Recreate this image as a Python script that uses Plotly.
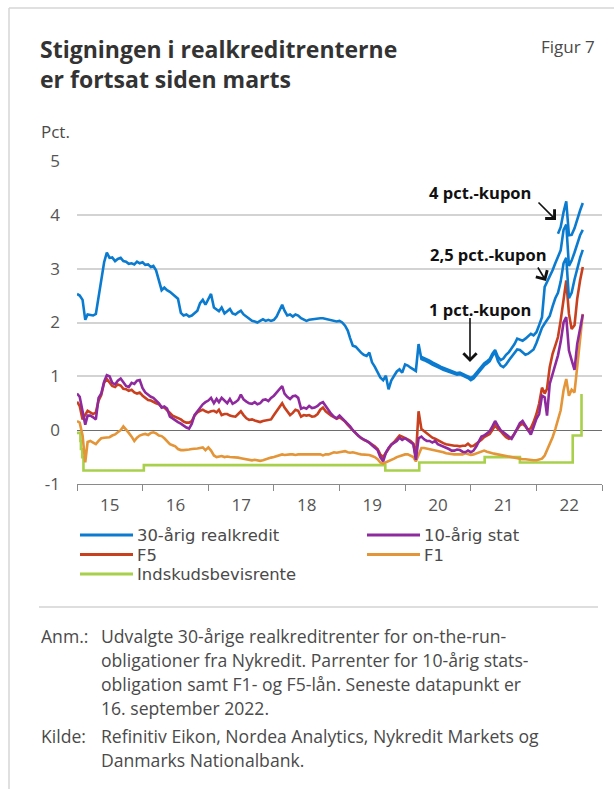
import plotly.graph_objects as go

# ---------------------------------------------------------------------------
# Data (per cent). Semi-monthly observations: 1st and 16th of each month,
# January 2015 - 16 September 2022.
# ---------------------------------------------------------------------------
dates = []
for year in range(2015, 2023):
    for month in range(1, 13):
        if year == 2022 and month > 9:
            break
        dates += [f"{year}-{month:02d}-01", f"{year}-{month:02d}-16"]

# 30-year mortgage rate (on-the-run, continuing as the 1 pct. coupon)
realkredit_30 = [
    2.53, 2.50, 2.42, 2.05, 2.15, 2.14, 2.13, 2.16, 2.50, 2.78, 3.12, 3.30,
    3.20, 3.21, 3.14, 3.18, 3.20, 3.14, 3.13, 3.09, 3.10, 3.08, 3.13, 3.10,
    3.12, 3.07, 3.08, 3.03, 3.05, 2.97, 2.75, 2.60, 2.65, 2.60, 2.57, 2.53,
    2.48, 2.44, 2.18, 2.13, 2.15, 2.11, 2.13, 2.17, 2.22, 2.36, 2.42, 2.33,
    2.44, 2.53, 2.28, 2.25, 2.21, 2.28, 2.17, 2.21, 2.25, 2.17, 2.15, 2.19,
    2.22, 2.15, 2.11, 2.06, 2.03, 2.02, 2.00, 2.03, 2.06, 2.03, 2.05, 2.03,
    2.05, 2.11, 2.22, 2.33, 2.22, 2.13, 2.15, 2.11, 2.15, 2.13, 2.08, 2.05,
    2.03, 2.05, 2.06, 2.06, 2.07, 2.08, 2.08, 2.07, 2.06, 2.05, 2.03, 2.02,
    2.03, 2.00, 1.94, 1.85, 1.71, 1.57, 1.55, 1.49, 1.44, 1.40, 1.38, 1.44,
    1.26, 1.18, 1.09, 0.98, 0.93, 1.01, 0.76, 0.92, 1.01, 1.09, 1.13, 1.07,
    1.22, 1.20, 1.16, 1.13, 1.10, 1.60, 1.32, 1.30, 1.28, 1.25, 1.22, 1.20,
    1.17, 1.15, 1.12, 1.10, 1.08, 1.06, 1.04, 1.03, 1.04, 1.01, 0.99, 0.97,
    0.93, 0.96, 1.03, 1.08, 1.15, 1.20, 1.24, 1.28, 1.38, 1.45, 1.28, 1.20,
    1.17, 1.22, 1.30, 1.36, 1.42, 1.50, 1.49, 1.44, 1.40, 1.42, 1.46, 1.50,
    1.62, 1.76, 1.90, 1.98, 2.04, 2.12, 2.30, 2.45, 2.55, 2.76, 3.10, 3.20,
    2.45, 2.55, 2.80, 3.00, 3.20, 3.35,
]

# Second on-the-run series from April 2020 (2.5 pct. coupon from February 2022)
realkredit_30_b_start = 126
realkredit_30_b = [
    1.36, 1.34, 1.31, 1.29, 1.26, 1.24, 1.21, 1.18, 1.16, 1.14, 1.11, 1.09,
    1.07, 1.06, 1.07, 1.04, 1.02, 1.00,
    0.97, 1.00, 1.07, 1.12, 1.19, 1.24, 1.28, 1.32, 1.42, 1.49, 1.36, 1.30,
    1.33, 1.40, 1.45, 1.52, 1.60, 1.70, 1.68, 1.66, 1.70, 1.74, 1.79, 1.76,
    1.82, 1.95, 2.10, 2.66, 2.75, 2.88, 2.97, 3.10, 3.22, 3.34, 3.72, 3.82,
    3.05, 3.15, 3.30, 3.45, 3.62, 3.72,
]

# 4 pct. coupon from May 2022
realkredit_30_c_start = 176
realkredit_30_c = [3.65, 3.77, 4.05, 4.25, 3.62, 3.63, 3.75, 3.93, 4.08, 4.22]

# 10-year government bond
stat_10 = [
    0.68, 0.62, 0.35, 0.10, 0.27, 0.27, 0.24, 0.20, 0.60, 0.68, 0.90, 1.02,
    1.00, 0.88, 0.85, 0.92, 0.96, 0.90, 0.82, 0.80, 0.88, 0.86, 0.92, 0.93,
    0.78, 0.70, 0.65, 0.62, 0.60, 0.56, 0.50, 0.42, 0.44, 0.40, 0.25, 0.22,
    0.18, 0.15, 0.12, 0.08, 0.05, 0.03, 0.12, 0.28, 0.35, 0.42, 0.48, 0.52,
    0.55, 0.60, 0.50, 0.58, 0.52, 0.60, 0.55, 0.50, 0.58, 0.49, 0.52, 0.56,
    0.66, 0.57, 0.53, 0.50, 0.49, 0.52, 0.48, 0.50, 0.56, 0.57, 0.54, 0.60,
    0.64, 0.70, 0.78, 0.82, 0.68, 0.62, 0.58, 0.63, 0.64, 0.60, 0.40, 0.42,
    0.40, 0.45, 0.41, 0.42, 0.45, 0.50, 0.52, 0.45, 0.36, 0.30, 0.25, 0.22,
    0.27, 0.22, 0.18, 0.12, 0.07, 0.00, -0.05, -0.10, -0.15, -0.17, -0.20, -0.23,
    -0.28, -0.33, -0.37, -0.50, -0.58, -0.42, -0.33, -0.27, -0.23, -0.20, -0.14, -0.18,
    -0.15, -0.19, -0.23, -0.26, -0.55, -0.15, -0.12, -0.17, -0.20, -0.20, -0.23, -0.20,
    -0.26, -0.28, -0.30, -0.32, -0.35, -0.38, -0.38, -0.36, -0.37, -0.40, -0.41, -0.38,
    -0.41, -0.38, -0.30, -0.20, -0.12, -0.10, -0.05, -0.02, 0.07, 0.17, 0.08, 0.00,
    -0.04, -0.08, -0.13, -0.16, -0.07, 0.04, 0.13, 0.17, 0.09, 0.00, -0.08, 0.06,
    0.21, 0.30, 0.64, 0.61, 0.27, 0.86, 1.05, 1.20, 1.39, 1.64, 2.00, 2.10,
    1.48, 1.30, 1.12, 1.60, 1.90, 2.15,
]

# F5 loans
f5 = [
    0.53, 0.45, 0.20, 0.30, 0.36, 0.33, 0.30, 0.33, 0.55, 0.65, 0.88, 0.95,
    0.89, 0.82, 0.80, 0.85, 0.83, 0.77, 0.76, 0.73, 0.75, 0.70, 0.68, 0.70,
    0.64, 0.60, 0.56, 0.55, 0.52, 0.50, 0.48, 0.43, 0.42, 0.38, 0.32, 0.27,
    0.25, 0.22, 0.20, 0.16, 0.14, 0.14, 0.17, 0.27, 0.33, 0.36, 0.38, 0.35,
    0.33, 0.35, 0.36, 0.33, 0.38, 0.28, 0.30, 0.30, 0.27, 0.26, 0.25, 0.30,
    0.35, 0.28, 0.22, 0.19, 0.20, 0.18, 0.17, 0.15, 0.17, 0.18, 0.19, 0.20,
    0.28, 0.35, 0.42, 0.50, 0.42, 0.36, 0.28, 0.32, 0.38, 0.36, 0.25, 0.28,
    0.27, 0.28, 0.25, 0.26, 0.30, 0.38, 0.42, 0.35, 0.30, 0.27, 0.24, 0.21,
    0.24, 0.20, 0.16, 0.10, 0.05, 0.00, -0.07, -0.11, -0.14, -0.18, -0.20, -0.23,
    -0.27, -0.30, -0.35, -0.45, -0.50, -0.42, -0.35, -0.27, -0.22, -0.16, -0.10, -0.12,
    -0.14, -0.17, -0.20, -0.25, -0.50, 0.35, 0.02, -0.02, -0.05, -0.10, -0.14, -0.16,
    -0.19, -0.21, -0.24, -0.26, -0.27, -0.29, -0.29, -0.29, -0.30, -0.29, -0.29, -0.25,
    -0.30, -0.29, -0.25, -0.22, -0.18, -0.13, -0.10, -0.07, 0.00, 0.09, 0.02, -0.02,
    -0.08, -0.13, -0.16, -0.14, -0.06, 0.02, 0.09, 0.12, 0.07, 0.00, 0.04, 0.15,
    0.30, 0.49, 0.79, 0.68, 0.77, 1.17, 1.42, 1.57, 1.73, 2.04, 2.38, 2.78,
    2.16, 1.88, 1.95, 2.44, 2.78, 3.03,
]

# F1 loans
f1 = [
    0.17, 0.14, -0.10, -0.60, -0.22, -0.20, -0.23, -0.26, -0.20, -0.15, -0.14, -0.14,
    -0.13, -0.10, -0.08, -0.04, 0.00, 0.07, 0.00, -0.05, -0.12, -0.20, -0.14, -0.10,
    -0.08, -0.07, -0.09, -0.05, -0.04, -0.06, -0.10, -0.11, -0.15, -0.20, -0.26, -0.28,
    -0.30, -0.35, -0.37, -0.37, -0.37, -0.36, -0.35, -0.35, -0.34, -0.33, -0.32, -0.37,
    -0.32, -0.38, -0.47, -0.50, -0.49, -0.48, -0.50, -0.49, -0.50, -0.50, -0.51, -0.51,
    -0.52, -0.53, -0.54, -0.54, -0.56, -0.55, -0.56, -0.57, -0.56, -0.54, -0.52, -0.51,
    -0.50, -0.48, -0.46, -0.45, -0.46, -0.45, -0.45, -0.45, -0.46, -0.45, -0.45, -0.44,
    -0.45, -0.45, -0.44, -0.45, -0.44, -0.45, -0.47, -0.45, -0.45, -0.43, -0.41, -0.42,
    -0.41, -0.40, -0.39, -0.41, -0.42, -0.41, -0.43, -0.44, -0.45, -0.45, -0.45, -0.46,
    -0.48, -0.50, -0.54, -0.60, -0.62, -0.60, -0.58, -0.56, -0.53, -0.50, -0.48, -0.46,
    -0.45, -0.45, -0.47, -0.50, -0.58, -0.45, -0.33, -0.33, -0.34, -0.35, -0.37, -0.38,
    -0.39, -0.40, -0.41, -0.43, -0.44, -0.45, -0.45, -0.45, -0.45, -0.45, -0.43, -0.44,
    -0.46, -0.45, -0.43, -0.41, -0.39, -0.38, -0.40, -0.42, -0.43, -0.44, -0.45, -0.46,
    -0.47, -0.48, -0.50, -0.51, -0.52, -0.53, -0.53, -0.54, -0.54, -0.55, -0.55, -0.56,
    -0.56, -0.55, -0.53, -0.47, -0.37, -0.24, -0.13, 0.02, 0.18, 0.37, 0.74, 0.95,
    0.64, 0.75, 0.70, 1.15, 1.70, 2.16,
]

# Certificate of deposit rate (step changes)
indskud_dates = ["2015-01-01", "2015-01-20", "2015-01-23", "2015-01-30", "2015-02-06",
                 "2016-01-08", "2019-09-13", "2020-03-20", "2021-03-19", "2021-10-01",
                 "2022-07-22", "2022-09-09", "2022-09-16"]
indskud = [-0.05, -0.20, -0.35, -0.50, -0.75, -0.65, -0.75, -0.60, -0.50, -0.60,
           -0.10, 0.65, 0.65]

y_tickvals = [-1, 0, 1, 2, 3, 4, 5]
y_ticktext = ["-1", "0", "1", "2", "3", "4", "5"]

# ---------------------------------------------------------------------------
# Styling
# ---------------------------------------------------------------------------
BLUE = "#0B7BD0"
PURPLE = "#8E2A9E"
RED = "#C8401E"
ORANGE = "#E39538"
GREEN = "#A8D04A"
FONT = "Open Sans"
LEGEND_FONT = "DejaVu Sans"
TXT = "#4A4A4A"

W, H = 614, 789
ML, MR, MT, MB = 77, 12, 161, 305
PW = W - ML - MR
PH = H - MT - MB


def px(x):
    """Pixel column -> paper x."""
    return (x - ML) / PW


def py(y):
    """Pixel row -> paper y."""
    return (H - MB - y) / PH


fig = go.Figure()

LW = 2.6
fig.add_trace(go.Scatter(x=indskud_dates, y=indskud, mode="lines", line_shape="hv",
                         line=dict(color=GREEN, width=LW), name="Indskudsbevisrente"))
fig.add_trace(go.Scatter(x=dates, y=f1, mode="lines", line=dict(color=ORANGE, width=LW), name="F1"))
fig.add_trace(go.Scatter(x=dates, y=f5, mode="lines", line=dict(color=RED, width=LW), name="F5"))
fig.add_trace(go.Scatter(x=dates, y=stat_10, mode="lines", line=dict(color=PURPLE, width=LW),
                         name="10-årig stat"))
fig.add_trace(go.Scatter(x=dates, y=realkredit_30, mode="lines", line=dict(color=BLUE, width=LW),
                         name="30-årig realkredit"))
fig.add_trace(go.Scatter(x=dates[realkredit_30_b_start:], y=realkredit_30_b, mode="lines",
                         line=dict(color=BLUE, width=LW), name="30-årig realkredit"))
fig.add_trace(go.Scatter(x=dates[realkredit_30_c_start:], y=realkredit_30_c, mode="lines",
                         line=dict(color=BLUE, width=LW), name="30-årig realkredit"))

annotations = []
shapes = []

# Title block
annotations += [
    dict(text="<b>Stigningen i realkreditrenterne</b>", x=px(38), y=py(49),
         font=dict(size=23, color="#333333", family=FONT)),
    dict(text="<b>er fortsat siden marts</b>", x=px(38), y=py(79),
         font=dict(size=23, color="#333333", family=FONT)),
    dict(text="Figur 7", x=px(539), y=py(47), font=dict(size=17, color=TXT, family=FONT)),
    dict(text="Pct.", x=px(39), y=py(131), font=dict(size=17, color=TXT, family=FONT)),
]

# Coupon labels with arrows
label_font = dict(size=16.5, color="#111111", family=FONT)
for text, cx, cy in [("4 pct.-kupon", 480, 192), ("2,5 pct.-kupon", 488, 254),
                     ("1 pct.-kupon", 480, 309)]:
    annotations.append(dict(text=f"<b>{text}</b>", x=px(cx), y=py(cy), xanchor="center",
                            font=label_font))
for (tx, ty), (hx, hy) in [((537, 201), (556, 220)), ((537, 266), (546, 281)),
                           ((470, 318), (470, 362))]:
    annotations.append(dict(text="", x=px(hx), y=py(hy), ax=tx - hx, ay=ty - hy,
                            showarrow=True, arrowhead=4, arrowsize=1.6, arrowwidth=1.6,
                            arrowcolor="#111111"))

# Legend
legend_items = [("30-årig realkredit", BLUE, 0, 0), ("10-årig stat", PURPLE, 1, 0),
                ("F5", RED, 0, 1), ("F1", ORANGE, 1, 1), ("Indskudsbevisrente", GREEN, 0, 2)]
col_x = [80, 367]
row_y = [535, 554.5, 574]
for name, color, c, r in legend_items:
    x0 = col_x[c]
    yy = row_y[r]
    shapes.append(dict(type="line", xref="paper", yref="paper", x0=px(x0), x1=px(x0 + 53),
                       y0=py(yy), y1=py(yy), line=dict(color=color, width=3)))
    annotations.append(dict(text=name, x=px(x0 + 56), y=py(yy), height=18, borderpad=0,
                            font=dict(size=16.4, color=TXT, family=LEGEND_FONT)))

# Separator and notes
shapes.append(dict(type="line", xref="paper", yref="paper", x0=px(39), x1=px(598),
                   y0=py(607), y1=py(607), line=dict(color="#BDBDBD", width=1)))
notes = [
    ("Anm.:", "Udvalgte 30-årige realkreditrenter for on-the-run-", 636),
    ("", "obligationer fra Nykredit. Parrenter for 10-årig stats-", 660),
    ("", "obligation samt F1- og F5-lån. Seneste datapunkt er", 684),
    ("", "16. september 2022.", 708),
    ("Kilde:", "Refinitiv Eikon, Nordea Analytics, Nykredit Markets og", 736),
    ("", "Danmarks Nationalbank.", 760),
]
for head, body, yy in notes:
    if head:
        annotations.append(dict(text=head, x=px(40), y=py(yy), height=22, borderpad=0,
                                font=dict(size=17.6, color=TXT, family=FONT)))
    annotations.append(dict(text=body, x=px(100), y=py(yy), height=22, borderpad=0,
                            font=dict(size=17.6, color=TXT, family=FONT)))

# Card border (top and left edges)
shapes.append(dict(type="line", xref="paper", yref="paper", x0=px(9), x1=px(W + 5),
                   y0=py(8), y1=py(8), line=dict(color="#D6D6D6", width=1.5)))
shapes.append(dict(type="line", xref="paper", yref="paper", x0=px(9), x1=px(9),
                   y0=py(8), y1=py(H + 5), line=dict(color="#D6D6D6", width=1.5)))

for a in annotations:
    a.setdefault("xref", "paper")
    a.setdefault("yref", "paper")
    a.setdefault("xanchor", "left")
    a.setdefault("yanchor", "middle")
    a.setdefault("showarrow", False)

fig.update_layout(
    width=W, height=H, autosize=False,
    margin=dict(l=ML, r=MR, t=MT, b=MB, pad=0),
    paper_bgcolor="white", plot_bgcolor="white",
    showlegend=False,
    font=dict(family=FONT, color=TXT, size=15),
    annotations=annotations,
    shapes=shapes,
    xaxis=dict(
        type="date", range=["2015-01-01", "2023-01-01"],
        tick0="2015-01-01", dtick="M12", tickformat="%y", ticklabelmode="period",
        ticks="outside", ticklen=6, tickwidth=1, tickcolor="#8A8A8A",
        showgrid=False, showline=True, linecolor="#8A8A8A", linewidth=1,
        tickfont=dict(size=17, color="#555555"), zeroline=False,
    ),
    yaxis=dict(
        range=[-1, 5], tickvals=y_tickvals, ticktext=y_ticktext,
        showgrid=True, gridcolor="#D3D3D3", gridwidth=1.5,
        zeroline=True, zerolinecolor="#6E6E6E", zerolinewidth=1.2,
        showline=False, ticks="", ticklabelstandoff=16,
        tickfont=dict(size=17, color="#555555"),
    ),
)

fig.write_html("out.html")
